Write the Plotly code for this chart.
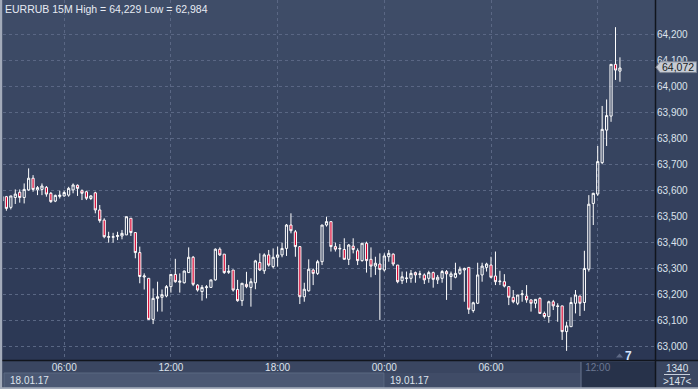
import plotly.graph_objects as go
import pandas as pd

# ---------------- data (EURRUB, 15-minute bars) ----------------
bar_start = "2017-01-18 02:30"
opens = [63.560, 63.577, 63.536, 63.574, 63.594, 63.574, 63.603, 63.648, 63.603, 63.605,
         63.613, 63.590, 63.560, 63.578, 63.580, 63.583, 63.603, 63.621, 63.600, 63.596,
         63.570, 63.592, 63.526, 63.487, 63.421, 63.421, 63.424, 63.426, 63.430, 63.494,
         63.439, 63.362, 63.268, 63.263, 63.105, 63.186, 63.190, 63.195, 63.231, 63.278,
         63.248, 63.246, 63.285, 63.344, 63.237, 63.212, 63.227, 63.228, 63.257, 63.375,
         63.356, 63.286, 63.295, 63.220, 63.177, 63.240, 63.228, 63.246, 63.324, 63.292,
         63.353, 63.308, 63.344, 63.353, 63.378, 63.468, 63.442, 63.385, 63.192, 63.215,
         63.295, 63.282, 63.327, 63.468, 63.481, 63.385, 63.376, 63.374, 63.336, 63.387,
         63.369, 63.331, 63.398, 63.336, 63.310, 63.318, 63.295, 63.346, 63.356, 63.314,
         63.254, 63.262, 63.263, 63.285, 63.278, 63.276, 63.263, 63.285, 63.257, 63.263,
         63.289, 63.270, 63.267, 63.282, 63.295, 63.305, 63.139, 63.167, 63.276, 63.305,
         63.314, 63.272, 63.250, 63.250, 63.231, 63.190, 63.167, 63.200, 63.195, 63.180,
         63.167, 63.186, 63.128, 63.116, 63.173, 63.157, 63.157, 63.058, 63.077, 63.167,
         63.195, 63.170, 63.298, 63.551, 63.587, 63.708, 63.833, 63.887, 64.086, 64.060]
highs = [63.582, 63.580, 63.580, 63.605, 63.605, 63.628, 63.686, 63.660, 63.618, 63.628,
         63.618, 63.595, 63.585, 63.600, 63.600, 63.615, 63.628, 63.624, 63.605, 63.600,
         63.583, 63.596, 63.545, 63.494, 63.442, 63.438, 63.442, 63.449, 63.500, 63.494,
         63.439, 63.385, 63.282, 63.263, 63.224, 63.250, 63.220, 63.237, 63.278, 63.338,
         63.282, 63.293, 63.382, 63.349, 63.240, 63.237, 63.237, 63.257, 63.378, 63.382,
         63.356, 63.314, 63.295, 63.257, 63.244, 63.288, 63.263, 63.334, 63.359, 63.359,
         63.372, 63.378, 63.385, 63.400, 63.472, 63.513, 63.449, 63.387, 63.246, 63.336,
         63.301, 63.334, 63.468, 63.500, 63.481, 63.400, 63.395, 63.417, 63.395, 63.417,
         63.378, 63.398, 63.404, 63.382, 63.346, 63.359, 63.359, 63.372, 63.359, 63.314,
         63.289, 63.289, 63.295, 63.289, 63.292, 63.282, 63.292, 63.289, 63.276, 63.295,
         63.295, 63.289, 63.323, 63.308, 63.304, 63.305, 63.173, 63.323, 63.323, 63.323,
         63.346, 63.366, 63.292, 63.279, 63.231, 63.218, 63.199, 63.218, 63.237, 63.182,
         63.182, 63.190, 63.135, 63.177, 63.180, 63.167, 63.157, 63.096, 63.190, 63.218,
         63.195, 63.369, 63.583, 63.592, 63.772, 63.926, 63.951, 64.086, 64.229, 64.113]
lows = [63.555, 63.523, 63.528, 63.549, 63.554, 63.551, 63.600, 63.596, 63.583, 63.583,
        63.577, 63.553, 63.556, 63.570, 63.577, 63.577, 63.590, 63.580, 63.564, 63.564,
        63.564, 63.513, 63.477, 63.417, 63.400, 63.400, 63.410, 63.413, 63.430, 63.426,
        63.340, 63.244, 63.220, 63.105, 63.087, 63.135, 63.135, 63.190, 63.208, 63.246,
        63.208, 63.243, 63.285, 63.233, 63.212, 63.177, 63.186, 63.228, 63.254, 63.349,
        63.280, 63.280, 63.212, 63.173, 63.157, 63.225, 63.154, 63.221, 63.291, 63.280,
        63.308, 63.301, 63.308, 63.344, 63.349, 63.436, 63.346, 63.164, 63.173, 63.212,
        63.237, 63.276, 63.314, 63.462, 63.366, 63.366, 63.344, 63.336, 63.314, 63.359,
        63.314, 63.327, 63.285, 63.267, 63.276, 63.103, 63.289, 63.327, 63.310, 63.244,
        63.241, 63.246, 63.246, 63.246, 63.263, 63.241, 63.246, 63.227, 63.241, 63.246,
        63.180, 63.218, 63.263, 63.276, 63.173, 63.126, 63.131, 63.164, 63.250, 63.289,
        63.263, 63.237, 63.237, 63.228, 63.160, 63.167, 63.160, 63.173, 63.169, 63.135,
        63.148, 63.126, 63.109, 63.092, 63.141, 63.096, 63.026, 62.984, 63.077, 63.128,
        63.118, 63.138, 63.289, 63.468, 63.580, 63.702, 63.772, 63.865, 64.026, 64.019]
closes = [63.578, 63.532, 63.580, 63.587, 63.574, 63.605, 63.648, 63.605, 63.612, 63.618,
          63.587, 63.558, 63.582, 63.583, 63.593, 63.609, 63.622, 63.609, 63.590, 63.571,
          63.580, 63.526, 63.485, 63.423, 63.423, 63.423, 63.428, 63.436, 63.500, 63.439,
          63.362, 63.270, 63.272, 63.105, 63.186, 63.192, 63.200, 63.231, 63.278, 63.250,
          63.252, 63.291, 63.344, 63.240, 63.218, 63.228, 63.230, 63.257, 63.375, 63.353,
          63.285, 63.290, 63.218, 63.177, 63.244, 63.231, 63.250, 63.330, 63.295, 63.353,
          63.314, 63.344, 63.353, 63.378, 63.468, 63.446, 63.385, 63.192, 63.221, 63.298,
          63.282, 63.327, 63.468, 63.481, 63.385, 63.375, 63.378, 63.336, 63.391, 63.374,
          63.331, 63.398, 63.331, 63.310, 63.321, 63.297, 63.349, 63.359, 63.318, 63.250,
          63.269, 63.264, 63.282, 63.276, 63.280, 63.257, 63.285, 63.259, 63.267, 63.289,
          63.280, 63.280, 63.282, 63.298, 63.301, 63.144, 63.169, 63.276, 63.310, 63.318,
          63.267, 63.250, 63.252, 63.233, 63.190, 63.173, 63.199, 63.203, 63.180, 63.167,
          63.182, 63.128, 63.116, 63.173, 63.157, 63.155, 63.058, 63.080, 63.170, 63.199,
          63.167, 63.301, 63.548, 63.590, 63.712, 63.836, 63.889, 64.086, 64.064, 64.072]

price_ticks = [63.0, 63.1, 63.2, 63.3, 63.4, 63.5, 63.6, 63.7, 63.8, 63.9, 64.0, 64.1, 64.2]
price_labels = ["63,000", "63,100", "63,200", "63,300", "63,400", "63,500", "63,600",
                "63,700", "63,800", "63,900", "64,000", "64,100", "64,200"]
time_ticks = ["2017-01-18 06:00", "2017-01-18 12:00", "2017-01-18 18:00",
              "2017-01-19 00:00", "2017-01-19 06:00", "2017-01-19 12:00"]
time_labels = ["06:00", "12:00", "18:00", "00:00", "06:00", "12:00"]
date_labels = ["18.01.17", "19.01.17"]
title_text = "EURRUB 15M High = 64,229 Low = 62,984"
last_price_label = "64,072"
info_top, info_bottom, marker_count = "1340", ">147<", "7"

# ---------------- layout geometry (pixels) ----------------
W, H = 698, 389
ML, MR, MT, MB = 3, 42, 0, 29
PW, PH = W - ML - MR, H - MT - MB
FIRST_BAR_PX = 1.95      # pixel centre of first bar
PX_PER_BAR = 4.446
Y_RANGE = [62.94885, 64.3335]
FONT = "Liberation Sans, Arial, sans-serif"

times = pd.date_range(bar_start, periods=len(opens), freq="15min")
t0 = pd.Timestamp(bar_start)


def px_time(px):
    return (t0 + pd.Timedelta(minutes=15 * (px - FIRST_BAR_PX) / PX_PER_BAR)).strftime("%Y-%m-%d %H:%M:%S.%f")


def X(px):
    return (px - ML) / PW


def Y(py):
    return (H - MB - py) / PH


fig = go.Figure(go.Candlestick(
    x=times, open=opens, high=highs, low=lows, close=closes,
    increasing=dict(line=dict(color="#ffffff", width=1), fillcolor="rgba(0,0,0,0)"),
    decreasing=dict(line=dict(color="#ffffff", width=1), fillcolor="#d8002e"),
    whiskerwidth=0, hoverinfo="skip", showlegend=False))

shapes = []


def rect(x0, y0, x1, y1, fill, line=None, layer="below"):
    shapes.append(dict(type="rect", xref="paper", yref="paper",
                       x0=X(x0), x1=X(x1), y0=Y(y1), y1=Y(y0), fillcolor=fill,
                       line=dict(width=0) if line is None else dict(color=line, width=1),
                       layer=layer))


def seg(x0, y0, x1, y1, color, width=1, layer="below"):
    shapes.append(dict(type="line", xref="paper", yref="paper",
                       x0=X(x0), x1=X(x1), y0=Y(y0), y1=Y(y1),
                       line=dict(color=color, width=width), layer=layer))


# vertical gradient background
top_c, bot_c = (63, 77, 104), (43, 55, 84)
n = 36
for k in range(n):
    f = (k + 0.5) / n
    c = tuple(round(top_c[j] + (bot_c[j] - top_c[j]) * f) for j in range(3))
    rect(0, k * 10, W, k * 10 + 10.6, "rgb(%d,%d,%d)" % c)

# bottom time strip
rect(0, 361, W, H, "#3a4661")
rect(4, 373, 384, 388, "#4b5873", line="#5b6882")
rect(385, 373, 580, 388, "#404c67")
rect(581, 362, 655, 388, "#27324a")
seg(581, 362, 581, 388, "#6b7791")
rect(657, 361, W, H, "#3a4661")
seg(664, 374.5, 690, 374.5, "#c7cfdc")
# separators
seg(0, 360.5, W, 360.5, "#11151d", 1.5)
seg(655.5, 0, 655.5, H, "#11151d", 1.5)
# outer frame
rect(0, 0, 2.2, H, "#a3abba")
rect(0, 387.2, W, H, "#a3abba")

# small marker triangle near bottom
shapes.append(dict(type="path", xref="paper", yref="paper",
                   path="M %f %f L %f %f L %f %f Z" % (X(616), Y(357.5), X(619.5), Y(353.5), X(623), Y(357.5)),
                   fillcolor="#5d6985", line=dict(width=0), layer="above"))

# last price tag
shapes.append(dict(type="path", xref="paper", yref="paper",
                   path="M %f %f L %f %f L %f %f L %f %f L %f %f Z" % (
                       X(656), Y(67.2), X(660), Y(61.8), X(696.5), Y(61.8),
                       X(696.5), Y(72.6), X(660), Y(72.6)),
                   fillcolor="#c6cbd4", line=dict(color="#7e8696", width=1), layer="above"))

annotations = []


def text(px, py, s, size=10, color="#dde3ec", anchor="center", bold=False):
    annotations.append(dict(xref="paper", yref="paper", x=X(px), y=Y(py), text=("<b>%s</b>" % s) if bold else s,
                            showarrow=False, xanchor=anchor, yanchor="middle",
                            font=dict(family=FONT, size=size, color=color)))


text(3, 8.5, title_text, size=10.5, color="#e6ebf3", anchor="left")
text(8, 380.5, date_labels[0], anchor="left")
text(388, 380.5, date_labels[1], anchor="left")
text(677, 368, info_top)
text(677, 381, info_bottom)
text(628, 355.5, marker_count, size=12, color="#d2e4ff", bold=True)
text(678.5, 67.4, last_price_label, size=10.5, color="#161a22")

fig.update_layout(
    width=W, height=H,
    margin=dict(l=ML, r=MR, t=MT, b=MB, pad=0),
    paper_bgcolor="#35425e", plot_bgcolor="rgba(0,0,0,0)",
    shapes=shapes, annotations=annotations, showlegend=False,
    xaxis=dict(type="date", range=[px_time(ML), px_time(ML + PW)],
               tickvals=time_ticks, ticktext=time_labels[:-1] + ["<span style='color:#6b7792'>%s</span>" % time_labels[-1]],
               showgrid=True, gridcolor="#5a6784", griddash="3px,3px", gridwidth=1,
               ticks="", showline=False, zeroline=False, automargin=False,
               tickfont=dict(family=FONT, size=10, color="#dde3ec"),
               rangeslider=dict(visible=False), fixedrange=True),
    yaxis=dict(side="right", range=Y_RANGE, tickvals=price_ticks, ticktext=price_labels,
               showgrid=True, gridcolor="#5a6784", griddash="3px,3px", gridwidth=1,
               ticks="", showline=False, zeroline=False, automargin=False,
               tickfont=dict(family=FONT, size=10, color="#dde3ec"), fixedrange=True),
)

fig.write_html("out.html", config={"displayModeBar": False},
               post_script="document.body.style.margin='0';document.body.style.padding='0';"
                           "document.documentElement.style.overflow='hidden';")
